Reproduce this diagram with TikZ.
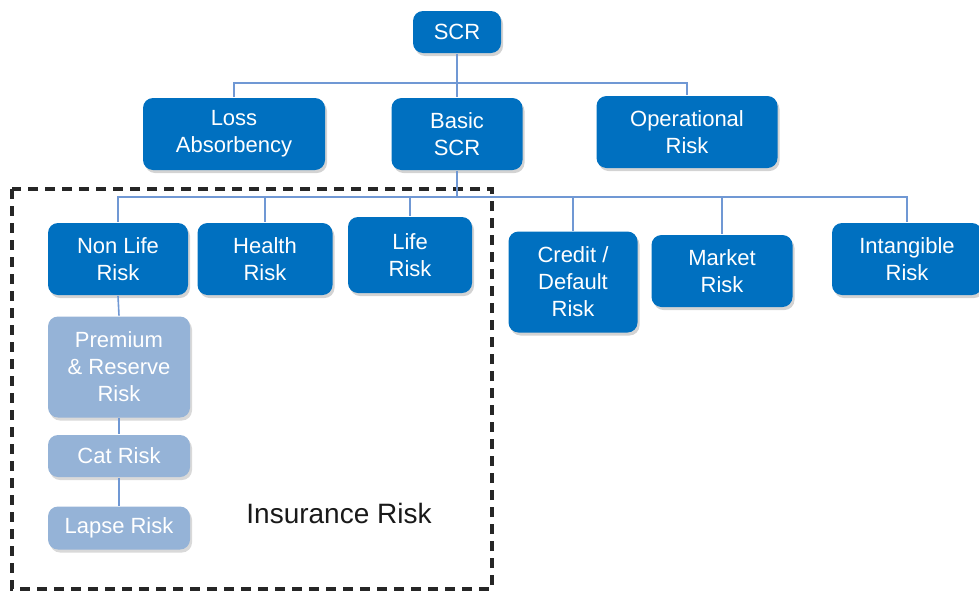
\documentclass[tikz,border=0pt]{standalone}
\usepackage{fontspec}
\setmainfont{Liberation Sans}
\usetikzlibrary{shadows}
\definecolor{riskblue}{RGB}{0,112,192}
\definecolor{subblue}{RGB}{149,179,215}
\definecolor{linkblue}{RGB}{112,152,212}
\begin{document}
\begin{tikzpicture}[x=1pt, y=-1pt, every node/.style = {shape=rectangle, rounded corners=10pt, align=center, inner sep=0pt, font=\fontsize{22}{27}\selectfont, text=white}, line width=1.6pt]
	\tikzstyle{risk} = [fill=riskblue, drop shadow={opacity=0.35, shadow xshift=2pt, shadow yshift=-3pt}]
	\tikzstyle{sub} = [fill=subblue, drop shadow={opacity=0.3, shadow xshift=2pt, shadow yshift=-3pt}]
	\tikzstyle{link} = [draw=linkblue]
	\tikzstyle{insbox} = [draw=black!85, line width=3.5pt, dash pattern=on 10pt off 7pt, rounded corners=0pt]
	\useasboundingbox (0,0) rectangle (979,592);
	% dashed frame of the insurance modules
	\draw[insbox] (12,189) rectangle (492,589);
	\node[draw=none, text=black!90, font=\fontsize{28}{32}\selectfont] (ins) at (339,513) {Insurance Risk};
	% top levels
	\node[risk, minimum width=88, minimum height=42] (scr) at (457,32) {SCR};
	\node[risk, minimum width=182, minimum height=72] (loss) at (234,134) {Loss\\Absorbency};
	\node[risk, minimum width=131, minimum height=72] (basic) at (457,134) {Basic\\SCR};
	\node[risk, minimum width=181, minimum height=72] (oper) at (687,132) {Operational\\Risk};
	% modules of the basic scr
	\node[risk, minimum width=140, minimum height=72] (nonlife) at (118,259) {Non Life\\Risk};
	\node[risk, minimum width=135, minimum height=72] (health) at (265,259) {Health\\Risk};
	\node[risk, minimum width=124, minimum height=76] (life) at (410,255) {Life\\Risk};
	\node[risk, minimum width=129, minimum height=101] (credit) at (573,282) {Credit /\\Default\\Risk};
	\node[risk, minimum width=141, minimum height=72] (market) at (722,271) {Market\\Risk};
	\node[risk, minimum width=150, minimum height=72] (intang) at (907,259) {Intangible\\Risk};
	% sub modules of non life
	\node[sub, minimum width=142, minimum height=101] (premium) at (119,367) {Premium\\\& Reserve\\Risk};
	\node[sub, minimum width=142, minimum height=42] (cat) at (119,456) {Cat Risk};
	\node[sub, minimum width=142, minimum height=43] (lapse) at (119,528) {Lapse Risk};
	% connectors
	\coordinate (top bus) at (457,83);
	\coordinate (basic bus) at (457,197);
	\draw[link] (scr.south) -- (top bus);
	\draw[link] (top bus) -- (basic.north);
	\draw[link] (loss.north) |- (top bus) -| (oper.north);
	\draw[link] (basic.south) -- (basic bus);
	\foreach \m in {nonlife, health, life, credit, market, intang}
		\draw[link] (basic bus) -| (\m.north);
	\draw[link] (nonlife.south) -- (premium.north);
	\draw[link] (premium.south) -- (cat.north);
	\draw[link] (cat.south) -- (lapse.north);
\end{tikzpicture}
\end{document}
